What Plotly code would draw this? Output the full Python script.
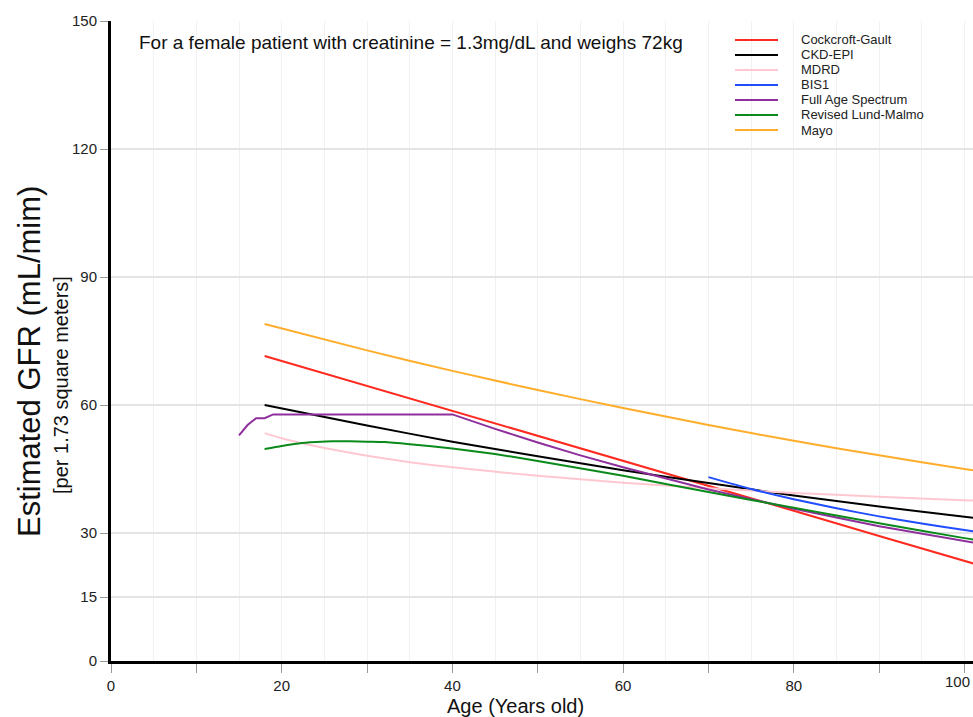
import plotly.graph_objects as go

# ---------------- data ----------------
cg_age = [18, 30, 40, 50, 60, 70, 80, 90, 100, 102]
cg_val = [71.5, 64.5, 58.6, 52.7, 46.9, 41.0, 35.2, 29.3, 23.4, 22.3]

ckd_age = [18, 30, 40, 50, 60, 70, 80, 90, 100, 102]
ckd_val = [60.0, 55.2, 51.4, 48.0, 44.7, 41.7, 38.8, 36.2, 33.8, 33.3]

mdrd_age = [18, 20, 22, 25, 30, 35, 40, 50, 60, 70, 80, 90, 100, 102]
mdrd_val = [53.4, 52.2, 51.2, 49.9, 48.1, 46.6, 45.4, 43.4, 41.8, 40.5, 39.4, 38.5, 37.7, 37.5]

bis_age = [70, 75, 80, 85, 90, 95, 100, 102]
bis_val = [43.1, 40.3, 37.9, 35.8, 33.9, 32.2, 30.7, 30.1]

fas_age = [15, 16, 17, 18, 19, 40, 45, 50, 55, 60, 70, 80, 90, 100, 102]
fas_val = [52.9, 55.3, 56.9, 56.9, 57.8, 57.8, 54.4, 51.2, 48.2, 45.4, 40.2, 35.7,
           31.6, 28.0, 27.4]

lm_age = [18, 20, 22, 24, 26, 28, 30, 32, 35, 40, 45, 50, 60, 70, 80, 90, 100, 102]
lm_val = [49.7, 50.4, 51.0, 51.3, 51.5, 51.5, 51.4, 51.3, 50.8, 49.8, 48.5, 46.9,
          43.4, 39.6, 35.9, 32.3, 28.8, 28.2]

mayo_age = [18, 30, 40, 50, 60, 70, 80, 90, 100, 102]
mayo_val = [79.0, 72.8, 68.0, 63.5, 59.3, 55.3, 51.6, 48.2, 45.0, 44.4]

series_names = ["Cockcroft-Gault", "CKD-EPI", "MDRD", "BIS1",
                "Full Age Spectrum", "Revised Lund-Malmo", "Mayo"]
series_colors = ["#ff2a1f", "#000000", "#ffc8d0", "#1f4dff",
                 "#8e2f9c", "#0a8a1a", "#ffad2a"]
series_shape = ["linear", "spline", "spline", "spline", "linear", "spline", "spline"]
series_x = [cg_age, ckd_age, mdrd_age, bis_age, fas_age, lm_age, mayo_age]
series_y = [cg_val, ckd_val, mdrd_val, bis_val, fas_val, lm_val, mayo_val]

x_ticks = [0, 10, 20, 30, 40, 50, 60, 70, 80, 90, 100]
x_ticktext = ["0", "", "20", "", "40", "", "60", "", "80", "", ""]
y_ticks = [0, 15, 30, 60, 90, 120, 150]

note = "For a female patient with creatinine = 1.3mg/dL and weighs 72kg"
FONT = "Liberation Sans, Arial, sans-serif"

# ---------------- figure ----------------
fig = go.Figure()
for xs, ys, nm, col, shp in zip(series_x, series_y, series_names, series_colors, series_shape):
    line = dict(color=col, width=2, shape=shp)
    if shp == "spline":
        line["smoothing"] = 0.6
    fig.add_trace(go.Scatter(x=xs, y=ys, mode="lines", name=nm, line=line,
                             showlegend=False, hoverinfo="skip"))

W, H = 973, 717
L, R, T, B = 111, 0, 21, 56
pw, ph = W - L - R, H - T - B

def px_x(p):
    return (p - L) / pw

def px_y(p):
    return (H - B - p) / ph

fig.update_layout(
    width=W, height=H,
    margin=dict(l=L, r=R, t=T, b=B, pad=0),
    paper_bgcolor="white", plot_bgcolor="white",
    font=dict(family=FONT, size=15, color="#222"),
    showlegend=False,
    xaxis=dict(range=[0, 101], tickmode="array", tickvals=x_ticks, ticktext=x_ticktext,
               showgrid=True, gridcolor="#f1f1f1", gridwidth=1,
               minor=dict(dtick=5, tick0=0, showgrid=True, gridcolor="#f1f1f1",
                          gridwidth=1, ticklen=0),
               showline=True, linecolor="black", linewidth=3,
               ticks="outside", ticklen=9, tickcolor="#999", tickwidth=1,
               tickfont=dict(size=15, color="#222"), zeroline=False),
    yaxis=dict(range=[0, 150], tickmode="array", tickvals=y_ticks,
               showgrid=True, gridcolor="#e4e4e4", gridwidth=2,
               showline=True, linecolor="black", linewidth=3,
               ticks="outside", ticklen=8, tickcolor="#999", tickwidth=1,
               tickfont=dict(size=15, color="#222"), zeroline=False),
)

ann = []
ann.append(dict(text=note, xref="paper", yref="paper", x=px_x(137), y=px_y(42),
                xanchor="left", yanchor="middle", showarrow=False,
                font=dict(size=19, color="#111", family=FONT)))
# "100" tick label (pulled inside the window as in the reference)
ann.append(dict(text="100", xref="paper", yref="paper", x=px_x(957), y=px_y(681),
                xanchor="center", yanchor="middle", showarrow=False,
                font=dict(size=15, color="#222", family=FONT)))
# axis titles
ann.append(dict(text="Age (Years old)", xref="paper", yref="paper",
                x=px_x(515.5), y=px_y(706), xanchor="center", yanchor="middle",
                showarrow=False, font=dict(size=20, color="#111", family=FONT)))
ann.append(dict(text="Estimated GFR (mL/mim)", xref="paper", yref="paper",
                x=px_x(29), y=px_y(362), xanchor="center", yanchor="middle",
                textangle=-90, showarrow=False,
                font=dict(size=31, color="#111", family=FONT)))
ann.append(dict(text="[per 1.73 square meters]", xref="paper", yref="paper",
                x=px_x(61), y=px_y(385), xanchor="center", yanchor="middle",
                textangle=-90, showarrow=False,
                font=dict(size=20, color="#111", family=FONT)))

# compact legend (as in the reference)
shapes = []
for i, (nm, col) in enumerate(zip(series_names, series_colors)):
    yy = px_y(40 + 15 * i)
    shapes.append(dict(type="line", xref="paper", yref="paper",
                       x0=px_x(735), x1=px_x(778), y0=yy, y1=yy,
                       line=dict(color=col, width=2)))
    ann.append(dict(text=nm, xref="paper", yref="paper", x=px_x(799), y=yy,
                    xanchor="left", yanchor="middle", showarrow=False,
                    font=dict(size=13, color="#222", family=FONT)))

fig.update_layout(annotations=ann, shapes=shapes)
fig.write_html("out.html")
